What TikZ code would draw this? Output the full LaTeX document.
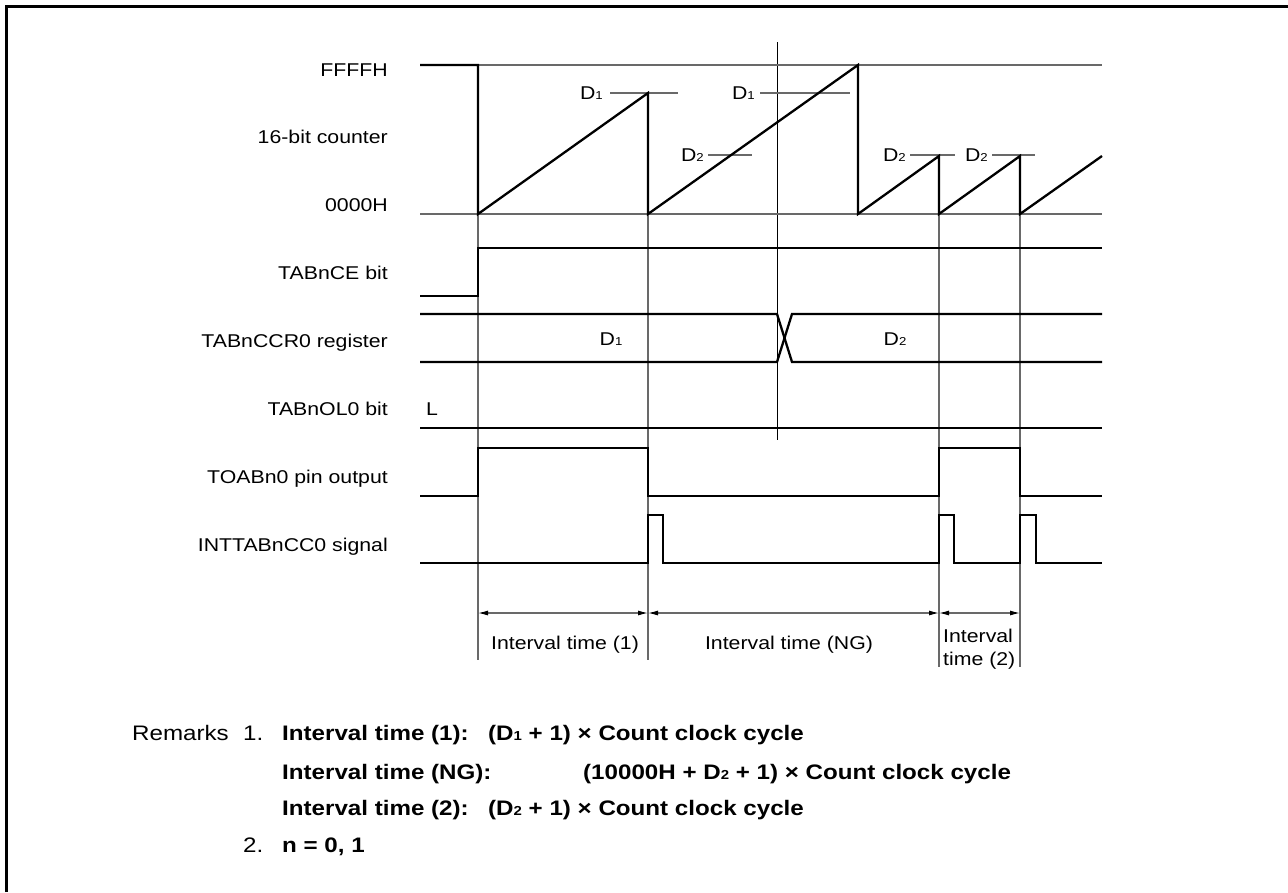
\documentclass[tikz,border=0pt]{standalone}
\usepackage{fontspec}
\setmainfont{Liberation Sans}[FakeStretch=1.15]
\usetikzlibrary{arrows.meta, positioning, calc}
\definecolor{guidegray}{RGB}{105,105,105}
\tikzset{
  sigline/.style  = {line width=2.3pt, line join=miter},
  guide/.style    = {draw=guidegray, line width=1.1pt},
  level/.style    = {draw=guidegray, line width=1.1pt},
  dimarrow/.style = {{Latex[length=10pt,width=5pt,color=black]}-{Latex[length=10pt,width=5pt,color=black]},
                     draw=guidegray, line width=1.1pt},
  siglabel/.style = {anchor=base east, inner sep=0pt, font=\fontsize{18.5}{23}\selectfont},
  vallabel/.style = {inner sep=0pt, font=\fontsize{18.5}{23}\selectfont},
  remark/.style   = {anchor=base west, inner sep=0pt, font=\fontsize{21}{25}\selectfont},
}
\newcommand{\Dn}[1]{D\scalebox{0.62}{#1}}

\begin{document}
\begin{tikzpicture}[x=1pt, y=-1pt]
  \useasboundingbox (0,0) rectangle (1288,892);
  % frame
  \draw[line width=2.7pt] (6.5,892) -- (6.5,6.5) -- (1288,6.5);

  % signal names
  \foreach \nm/\txt/\y in {ffff/FFFFH/76, cnt/16-bit counter/143, zero/0000H/211,
                           ce/TABnCE bit/279, ccr/TABnCCR0 register/347,
                           ol/TABnOL0 bit/415, toab/TOABn0 pin output/483,
                           intt/INTTABnCC0 signal/551} {
    \node[siglabel] (\nm) at (388,\y) {\txt};
  }

  % guide lines
  \draw[guide] (478,214) -- (478,660);
  \draw[guide] (648,93) -- (648,660);
  \draw[guide] (939,214) -- (939,667);
  \draw[guide] (1020,214) -- (1020,667);
  \draw[line width=1pt] (777,42) -- (777,440);

  % counter levels
  \draw[level] (478,65) -- (1102,65);
  \draw[level] (420,214) -- (1102,214);

  % compare values on the counter
  \foreach \nm/\v/\xl/\xa/\xb/\y in {da/1/603/610/678/93, db/1/755/760/850/93,
                                     dc/2/704/708/752/155, dd/2/906/910/955/155,
                                     de/2/988/992/1035/155} {
    \node[vallabel, anchor=east] (\nm) at (\xl,\y) {\Dn{\v}};
    \coordinate (\nm s) at (\xa,\y);
    \coordinate (\nm e) at (\xb,\y);
    \draw[level] (\nm s) -- (\nm e);
  }

  % 16-bit counter
  \draw[sigline] (420,65) -- (478,65) -- (478,214) -- (648,93) -- (648,214)
    -- (858,65) -- (858,214) -- (939,156) -- (939,214) -- (1020,156)
    -- (1020,214) -- (1102,156);

  % TABnCE bit
  \draw[sigline] (420,296) -- (478,296) -- (478,248) -- (1102,248);

  % TABnCCR0 register
  \draw[sigline] (420,314) -- (777,314) -- (792,362) -- (1102,362);
  \draw[sigline] (420,362) -- (777,362) -- (792,314) -- (1102,314);
  \node[vallabel] (ccrd1) at (611,339) {\Dn{1}};
  \node[vallabel] (ccrd2) at (895,339) {\Dn{2}};

  % TABnOL0 bit
  \draw[sigline] (420,428) -- (1102,428);
  \node[vallabel] (oll) at (432,409) {L};

  % TOABn0 pin output
  \draw[sigline] (420,496) -- (478,496) -- (478,448) -- (648,448) -- (648,496)
    -- (939,496) -- (939,448) -- (1020,448) -- (1020,496) -- (1102,496);

  % INTTABnCC0 signal
  \draw[sigline] (420,563) -- (648,563) -- (648,515) -- (663,515) -- (663,563)
    -- (939,563) -- (939,515) -- (954,515) -- (954,563)
    -- (1020,563) -- (1020,515) -- (1036,515) -- (1036,563) -- (1102,563);

  % interval times
  \coordinate (t0) at (478,613);
  \coordinate (t1) at (648,613);
  \coordinate (t2) at (939,613);
  \coordinate (t3) at (1020,613);
  \draw[dimarrow] (t0) -- (t1);
  \draw[dimarrow] (t1) -- (t2);
  \draw[dimarrow] (t2) -- (t3);
  \node[vallabel, anchor=base] (iv1) at (565,649) {Interval time (1)};
  \node[vallabel, anchor=base] (ivng) at (789,649) {Interval time (NG)};
  \node[vallabel, anchor=north west, align=left] (iv2) at (943,628.5) {Interval\\time (2)};

  % remarks
  \node[remark] (rem) at (132,740) {Remarks};
  \node[remark] (rem1) at (243,740) {1.};
  \node[remark, font=\fontsize{21}{25}\selectfont\bfseries] (r1a) at (282,740) {Interval time (1):};
  \node[remark, font=\fontsize{21}{25}\selectfont\bfseries] (r1b) at (488,740) {(\Dn{1} + 1) × Count clock cycle};
  \node[remark, font=\fontsize{21}{25}\selectfont\bfseries] (r2a) at (282,779) {Interval time (NG):};
  \node[remark, font=\fontsize{21}{25}\selectfont\bfseries] (r2b) at (583,779) {(10000H + \Dn{2} + 1) × Count clock cycle};
  \node[remark, font=\fontsize{21}{25}\selectfont\bfseries] (r3a) at (282,815) {Interval time (2):};
  \node[remark, font=\fontsize{21}{25}\selectfont\bfseries] (r3b) at (488,815) {(\Dn{2} + 1) × Count clock cycle};
  \node[remark] (rem2) at (243,852) {2.};
  \node[remark, font=\fontsize{21}{25}\selectfont\bfseries] (r4) at (282,852) {n = 0, 1};
\end{tikzpicture}
\end{document}
